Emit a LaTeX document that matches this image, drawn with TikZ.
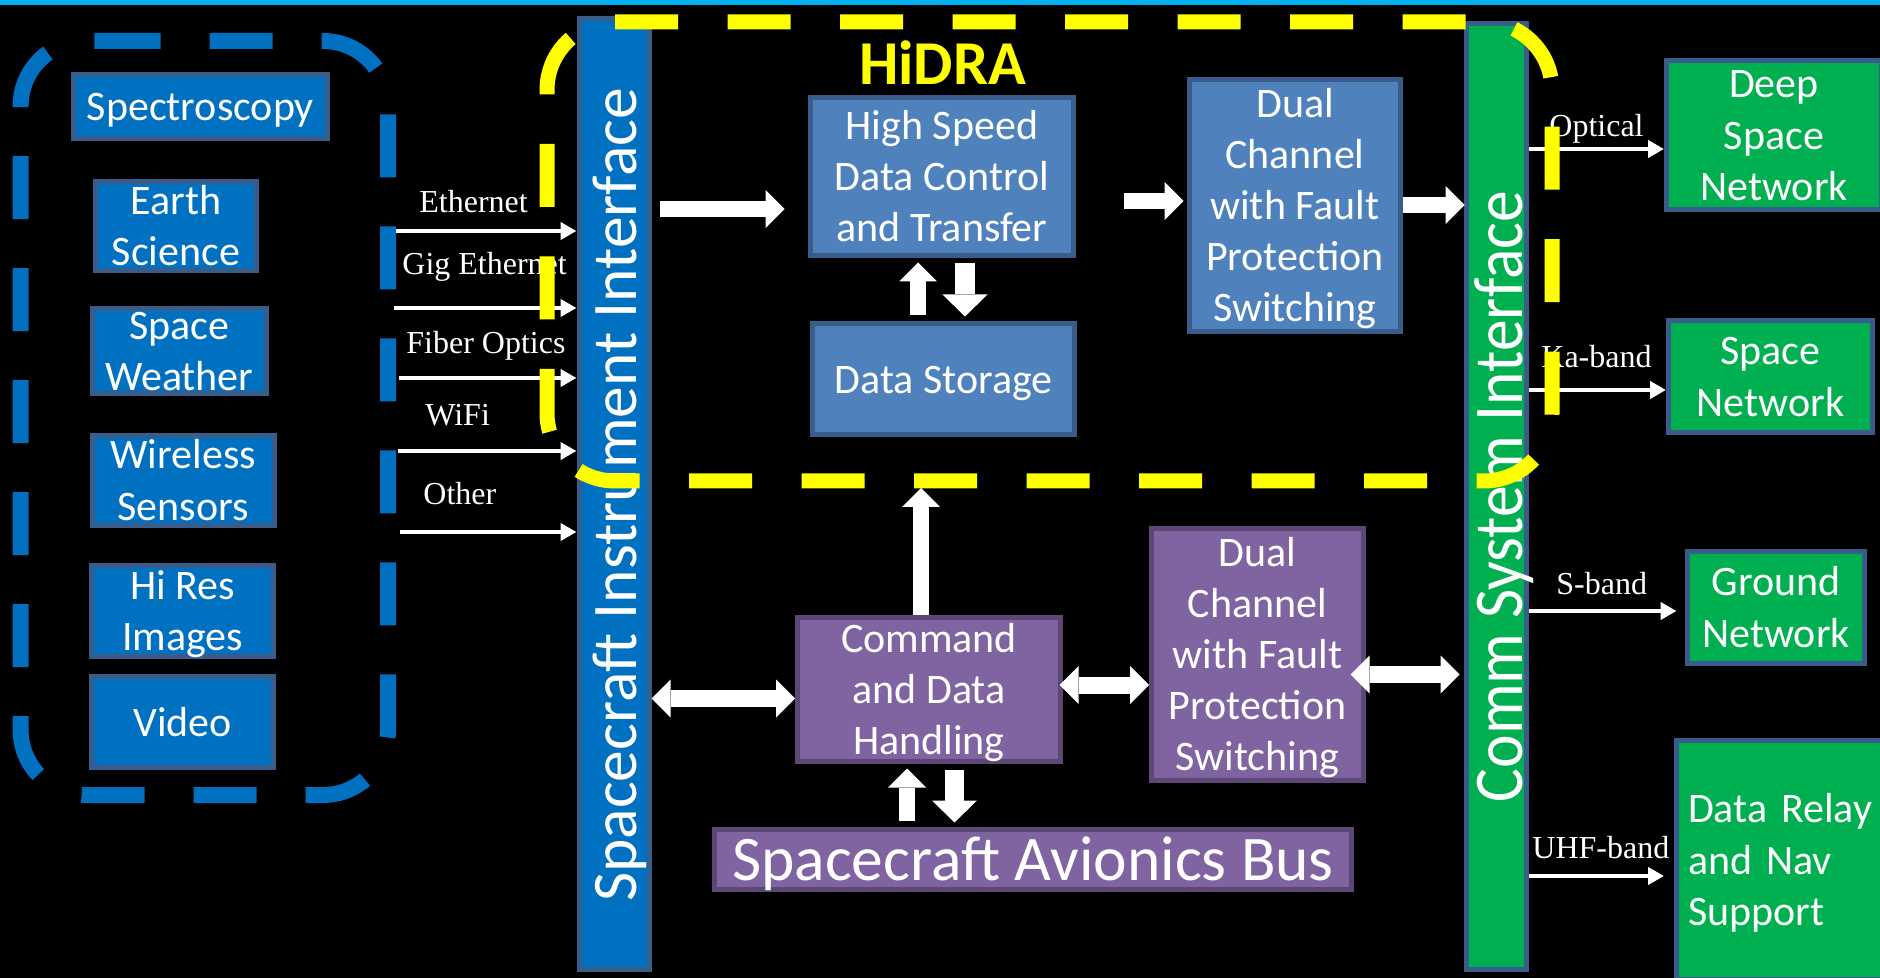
\documentclass[tikz,border=0pt]{standalone}
\usepackage{fontspec}
\usepackage{graphicx}
\setmainfont{Carlito}
\newfontfamily\serifface{Liberation Serif}
\usetikzlibrary{arrows.meta}

\definecolor{topcyan}{HTML}{00B0F0}
\definecolor{boxblue}{HTML}{0070C0}
\definecolor{edgeblue}{HTML}{385D8A}
\definecolor{steel}{HTML}{4F81BD}
\definecolor{pviolet}{HTML}{8064A2}
\definecolor{violetedge}{HTML}{5C4776}
\definecolor{netgreen}{HTML}{00B050}
\definecolor{hiyellow}{HTML}{FFFF00}

% one text line of a box: fixed line box, letters smashed so the box keeps its size
\newcommand\bl[1]{\rule[-0.069em]{0pt}{0.805em}\smash{#1}}

\tikzset{
  box/.style={draw=edgeblue, line width=2.5pt, text=white, inner sep=0pt, align=center,
    font=\fontsize{21pt}{25.6pt}\selectfont},
  srcbox/.style={box, fill=boxblue},
  hidrabox/.style={box, fill=steel},
  avbox/.style={box, fill=pviolet, draw=violetedge},
  netbox/.style={box, fill=netgreen},
  bar/.style={draw=edgeblue, line width=2.5pt, inner sep=0pt},
  bartext/.style={text=white, rotate=90, anchor=base, inner sep=0pt,
    font=\fontsize{31.75pt}{38pt}\selectfont},
  link/.style={draw=white, line width=2.25pt, -{Triangle[length=8pt,width=8.5pt]}},
  linklabel/.style={text=white, anchor=base west, inner sep=0pt,
    font=\serifface\fontsize{16pt}{19pt}\selectfont},
  blk/.style={draw=white, line width=8pt, -{Triangle[length=9.5pt,width=19pt,line width=0pt]}},
  blkboth/.style={draw=white, line width=8.5pt,
    {Triangle[length=9.5pt,width=19pt,line width=0pt]}-{Triangle[length=9.5pt,width=19pt,line width=0pt]}},
  blkwide/.style={draw=white, line width=9.75pt, -{Triangle[length=11pt,width=22.5pt,line width=0pt]}},
}

\begin{document}
\begin{tikzpicture}[x=0.5pt,y=-0.5pt]
\useasboundingbox (0,0) rectangle (1880,978);
\clip (0,0) rectangle (1880,978);
\fill[black] (0,0) rectangle (1880,978);
\fill[topcyan] (0,0) rectangle (1880,5);

% payload sources
\draw[boxblue, line width=8pt, dash pattern=on 31.5pt off 24.5pt,
  rounded corners=32.5pt] (97.6,41) -- (388,41) -- (388,795) -- (20.6,795) -- (20.6,41) -- (97.6,41);

\node[srcbox, minimum width=127.2pt, minimum height=32pt] (spec) at (200.4,106.5) {\bl{Spectroscopy}};
\node[srcbox, minimum width=80.5pt, minimum height=44.5pt] (earth) at (176,226) {\bl{Earth}\\\bl{Science}};
\node[srcbox, minimum width=86.8pt, minimum height=42.5pt] (weather) at (179.3,351) {\bl{Space}\\\bl{Weather}};
\node[srcbox, minimum width=90.8pt, minimum height=45pt] (wireless) at (183.3,480.5) {\bl{Wireless}\\\bl{Sensors}};
\node[srcbox, minimum width=91pt, minimum height=45.5pt] (hires) at (182.5,611) {\bl{Hi Res}\\\bl{Images}};
\node[srcbox, minimum width=91pt, minimum height=45.5pt] (video) at (182.5,722) {\bl{Video}};

% interface bars
\node[bar, fill=boxblue, minimum width=35pt, minimum height=475.5pt] (sii) at (614,494) {};
\node[bartext] (siiT) at (636,495) {Spacecraft Instrument Interface};
\node[bar, fill=netgreen, minimum width=30pt, minimum height=473pt] (comm) at (1496,496.5) {};
\node[bartext] (commT) at (1522,496.5) {\scalebox{1}[1.1]{Comm System Interface}};

% instrument links
\coordinate (eth0) at (396,231);
\coordinate (gig0) at (394,308);
\coordinate (fib0) at (399,378);
\coordinate (wifi0) at (398,451);
\coordinate (oth0) at (400,532);
\draw[link] (eth0) -- (eth0 -| sii.west);
\draw[link] (gig0) -- (gig0 -| sii.west);
\draw[link] (fib0) -- (fib0 -| sii.west);
\draw[link] (wifi0) -- (wifi0 -| sii.west);
\draw[link] (oth0) -- (oth0 -| sii.west);
\node[linklabel] (ethL) at (419,213) {Ethernet};
\node[linklabel] (gigL) at (402,275) {Gig Ethernet};
\node[linklabel] (fibL) at (406,354) {Fiber Optics};
\node[linklabel] (wifiL) at (425,426) {WiFi};
\node[linklabel] (othL) at (423,505) {Other};

% HiDRA blocks
\node[hidrabox, minimum width=131.5pt, minimum height=79pt] (hs) at (942,176.5)
  {\bl{High Speed}\\\bl{Data Control}\\\bl{and Transfer}};
\node[hidrabox, minimum width=131pt, minimum height=55.5pt] (storage) at (943.5,379) {\bl{Data Storage}};
\node[hidrabox, minimum width=105.5pt, minimum height=126pt] (dualB) at (1295,205.5)
  {\bl{Dual}\\\bl{Channel}\\\bl{with Fault}\\\bl{Protection}\\\bl{Switching}};

% avionics blocks
\node[avbox, minimum width=131.5pt, minimum height=72pt] (cdh) at (929,689.5)
  {\bl{Command}\\\bl{and Data}\\\bl{Handling}};
\node[avbox, minimum width=106pt, minimum height=126pt] (dualP) at (1257.5,654.5)
  {\bl{Dual}\\\bl{Channel}\\\bl{with Fault}\\\bl{Protection}\\\bl{Switching}};
\node[avbox, minimum width=318.5pt, minimum height=30pt, font=\fontsize{31.75pt}{38pt}\selectfont]
  (bus) at (1033,859.5) {\bl{Spacecraft Avionics Bus}};

% ground and relay networks
\node[netbox, minimum width=107.5pt, minimum height=74.5pt] (dsn) at (1774,135)
  {\bl{Deep}\\\bl{Space}\\\bl{Network}};
\node[netbox, minimum width=102pt, minimum height=56pt] (sn) at (1770.5,376.5)
  {\bl{Space}\\\bl{Network}};
\node[netbox, minimum width=88.5pt, minimum height=56pt] (gn) at (1776,607.5)
  {\bl{Ground}\\\bl{Network}};
\node[netbox, minimum width=103pt, minimum height=119.5pt, align=left, text width=91.5pt,
  inner xsep=5.75pt, inner ysep=0pt] (drn) at (1779.5,860)
  {\bl{Data Relay}\\\bl{and Nav}\\\bl{Support}};

% comm links
\coordinate (yOpt) at (0,149);
\coordinate (yKa) at (0,390);
\coordinate (yS) at (0,611);
\coordinate (yUhf) at (0,876);
\draw[link] (comm.east |- yOpt) -- (dsn.west |- yOpt);
\draw[link] (comm.east |- yKa) -- (sn.west |- yKa);
\draw[link, shorten >=4.25pt] (comm.east |- yS) -- (gn.west |- yS);
\draw[link, shorten >=5pt] (comm.east |- yUhf) -- (drn.west |- yUhf);
\node[linklabel] (optL) at (1549,137) {Optical};
\node[linklabel] (kaL) at (1541,368) {Ka-band};
\node[linklabel] (sL) at (1556,595) {S-band};
\node[linklabel] (uhfL) at (1532,858) {UHF-band};

% HiDRA boundary
\node[text=hiyellow, anchor=base, inner sep=0pt, font=\bfseries\fontsize{31.2pt}{37pt}\selectfont]
  (hidra) at (942.5,85) {HiDRA};
\draw[hiyellow, line width=7.5pt, dash pattern=on 31.5pt off 24.75pt,
  rounded corners=34pt] (615,22) -- (1552,22) -- (1552,481) -- (547,481) -- (547,22) -- (615,22);

% data flow
\coordinate (yA) at (0,209);
\coordinate (yB) at (0,201);
\coordinate (yC) at (0,205);
\coordinate (xUp) at (918,0);
\coordinate (xDn) at (965,0);
\coordinate (gate) at (921,488);
\coordinate (yD) at (0,698.5);
\coordinate (yE) at (0,685);
\coordinate (yF) at (0,674.5);
\coordinate (xBusUp) at (907,0);
\coordinate (xBusDn) at (954.5,0);
\draw[blk, shorten <=4pt, shorten >=11.75pt] (sii.east |- yA) -- (hs.west |- yA);
\draw[blk, shorten <=23.75pt, shorten >=1.75pt] (hs.east |- yB) -- (dualB.west |- yB);
\draw[blk] (dualB.east |- yC) -- ([xshift=0.5pt]comm.west |- yC);
\draw[blk, shorten <=2.75pt, shorten >=2.25pt] (storage.north -| xUp) -- (hs.south -| xUp);
\draw[blkwide, shorten <=2.75pt, shorten >=2.25pt] (hs.south -| xDn) -- (storage.north -| xDn);
\draw[blk] (cdh.north -| gate) -- (gate);
\draw[blkboth] (sii.east |- yD) -- (cdh.west |- yD);
\draw[blkboth, shorten <=-1.75pt] (cdh.east |- yE) -- (dualP.west |- yE);
\draw[blkboth, shorten <=-7.75pt, shorten >=2pt] (dualP.east |- yF) -- (comm.west |- yF);
\draw[blk, shorten <=3.25pt, shorten >=2.25pt] (bus.north -| xBusUp) -- (cdh.south -| xBusUp);
\draw[blkwide, shorten <=2.75pt, shorten >=2.25pt] (cdh.south -| xBusDn) -- (bus.north -| xBusDn);
\end{tikzpicture}
\end{document}
